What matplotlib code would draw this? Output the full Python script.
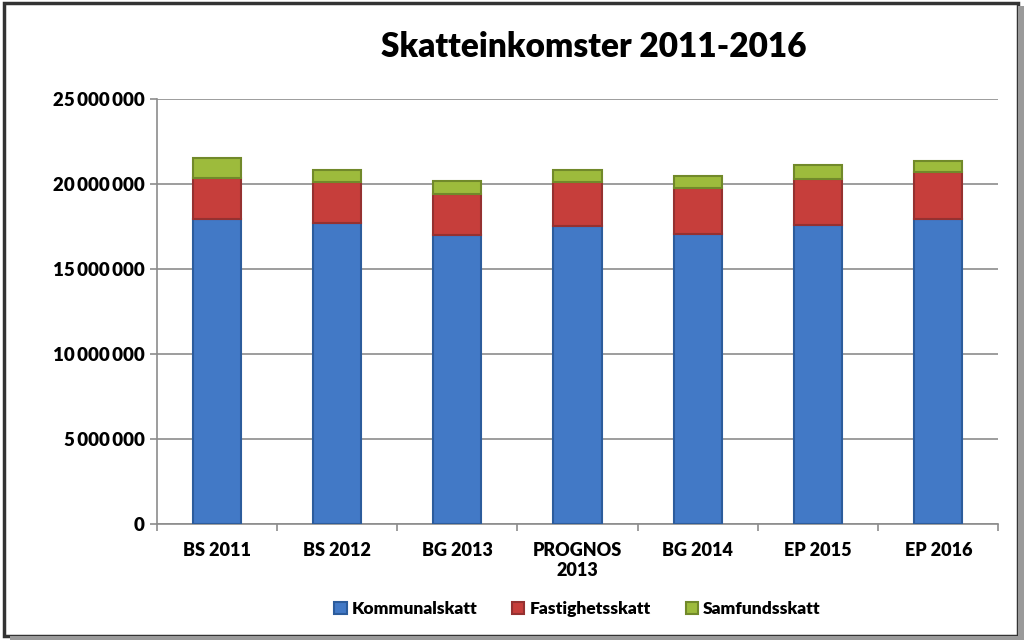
import numpy as np
import matplotlib.pyplot as plt
from matplotlib.patches import Rectangle
from matplotlib.ticker import FuncFormatter, FixedLocator

plt.rcParams['font.family'] = ['Lato', 'DejaVu Sans']

categories = ['BS 2011', 'BS 2012', 'BG 2013', 'PROGNOS\n2013', 'BG 2014', 'EP 2015', 'EP 2016']
kommunalskatt = [17950000, 17700000, 17000000, 17550000, 17050000, 17600000, 17950000]
fastighetsskatt = [2400000, 2450000, 2400000, 2600000, 2750000, 2700000, 2750000]
samfundsskatt = [1200000, 680000, 770000, 680000, 690000, 800000, 680000]

series = [('Kommunalskatt', kommunalskatt, '#4279c6', '#2c5c9c'),
          ('Fastighetsskatt', fastighetsskatt, '#c63e3b', '#953130'),
          ('Samfundsskatt', samfundsskatt, '#9dbb3c', '#71892a')]

fig = plt.figure(figsize=(10.24, 6.4), dpi=100)
ax = fig.add_axes([0.153, 0.181, 0.822, 0.664])

x = np.arange(len(categories))
bottom = np.zeros(len(categories))
for name, vals, col, edge in series:
    ax.bar(x, vals, width=0.4, bottom=bottom, color=col, edgecolor=edge,
           linewidth=1.5, label=name, zorder=3)
    bottom += np.array(vals)

ax.set_xlim(-0.5, len(categories) - 0.5)
ax.set_ylim(0, 25000000)
ax.set_yticks(np.arange(0, 25000001, 5000000))
ax.yaxis.set_major_formatter(FuncFormatter(lambda v, p: f'{int(v):,}'.replace(',', '\u2009')))
ax.grid(axis='y', color='#8c8c8c', linewidth=1.2, zorder=0)

ax.set_xticks(x)
ax.set_xticklabels(categories, fontweight='heavy', fontsize=13)
ax.xaxis.set_minor_locator(FixedLocator(np.arange(-0.5, len(categories), 1)))
ax.tick_params(axis='x', which='major', length=0, pad=13)
ax.tick_params(axis='x', which='minor', length=5, color='#8c8c8c', width=1.2)
ax.tick_params(axis='y', length=5, color='#8c8c8c', width=1.2, labelsize=13.5)
for lab in ax.get_yticklabels():
    lab.set_fontweight('heavy')

for s in ['top', 'right']:
    ax.spines[s].set_visible(False)
for s in ['left', 'bottom']:
    ax.spines[s].set_color('#8c8c8c')
    ax.spines[s].set_linewidth(1.2)

fig.text(0.58, 0.926, 'Skatteinkomster 2011-2016', ha='center', va='center',
         fontsize=24, fontweight='heavy')

ax.legend(loc='upper center', bbox_to_anchor=(0.5, -0.145), ncol=3, frameon=False,
          prop={'weight': 'heavy', 'size': 12.5}, handlelength=0.7, handleheight=0.7,
          columnspacing=2.0, handletextpad=0.3)

# outer frame with shadow
fig.patches.append(Rectangle((0.004, 0.006), 0.99, 0.99, transform=fig.transFigure,
                             fill=False, edgecolor='#333333', linewidth=2.5))
fig.patches.append(Rectangle((0.994, 0.0), 0.006, 0.99, transform=fig.transFigure,
                             facecolor='#9a9a9a', edgecolor='none'))
fig.patches.append(Rectangle((0.01, 0.0), 0.99, 0.006, transform=fig.transFigure,
                             facecolor='#9a9a9a', edgecolor='none'))

fig.savefig('out.png', dpi=100)
